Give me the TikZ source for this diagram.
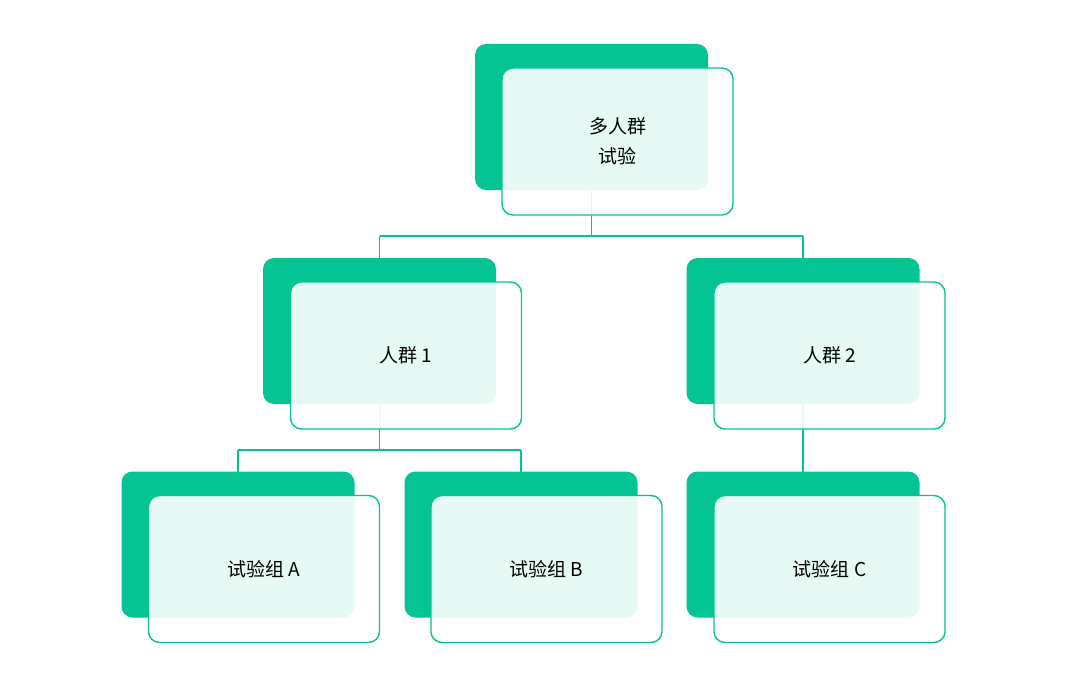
\documentclass[tikz,border=0pt]{standalone}
\usepackage{fontspec}
\newfontfamily\cjk{Noto Sans CJK SC}
\definecolor{gr}{HTML}{05C493}
\begin{document}
\begin{tikzpicture}[x=1pt,y=-1pt,
  back/.style={fill=gr,rounded corners=11pt,minimum width=233pt,minimum height=146pt,inner sep=0pt,outer sep=0pt},
  front/.style={draw=gr,line width=1.4pt,fill=white,fill opacity=0.9,text opacity=1,rounded corners=11pt,minimum width=231pt,minimum height=147pt,inner sep=0pt,font=\cjk\fontsize{19}{30}\selectfont,align=center,text=black},
  conn/.style={draw=gr,line width=1.2pt}]
\useasboundingbox (0,0) rectangle (1080,685);
\node[back] (t) at (591.5,117) {};
\node[back] (p1) at (379.5,331) {};
\node[back] (p2) at (803,331) {};
\node[back] (a) at (238,544.5) {};
\node[back] (b) at (521,544.5) {};
\node[back] (c) at (803,544.5) {};
\coordinate (j1) at (591.5,236);
\coordinate (j2) at (379.5,450);
\draw[conn] (t.center) -- (j1);
\draw[conn] (p1.center |- j1) -- (p2.center |- j1);
\draw[conn] (p1.north) -- (p1.north |- j1);
\draw[conn] (p2.north) -- (p2.north |- j1);
\draw[conn] (p1.center) -- (j2);
\draw[conn] (a.center |- j2) -- (b.center |- j2);
\draw[conn] (a.north) -- (a.north |- j2);
\draw[conn] (b.north) -- (b.north |- j2);
\draw[conn] (p2.center) -- (c.north);
\node[front] (tf) at (617.5,141.5) {多人群\\试验};
\node[front] (p1f) at (406,355.5) {人群 1};
\node[front] (p2f) at (829.5,355.5) {人群 2};
\node[front] (af) at (264,569) {试验组 A};
\node[front] (bf) at (546.5,569) {试验组 B};
\node[front] (cf) at (829.5,569) {试验组 C};
\end{tikzpicture}
\end{document}
